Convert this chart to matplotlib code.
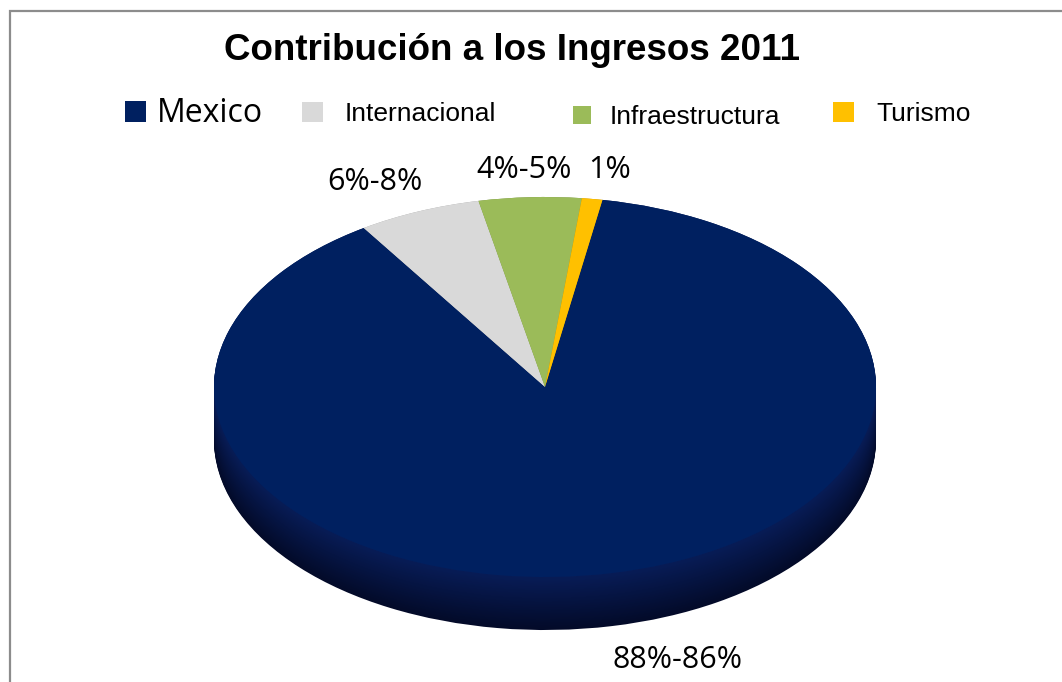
import matplotlib
matplotlib.use("Agg")
import matplotlib.pyplot as plt
import numpy as np
from matplotlib.patches import Rectangle
from matplotlib.colors import to_rgb

# data
categories = ["Mexico", "Internacional", "Infraestructura", "Turismo"]
values = [88, 6, 5, 1]
pct_labels = ["88%-86%", "6%-8%", "4%-5%", "1%"]
colors = ["#002060", "#d9d9d9", "#9bbb59", "#ffc000"]
title = "Contribución a los Ingresos 2011"

W, H = 1062, 682
fig = plt.figure(figsize=(W / 100, H / 100), dpi=100)
fig.patch.set_facecolor("white")

# chart frame (only top and left edges show)
fig.add_artist(Rectangle((10 / W, -0.2), 1.2, 1.2 - 11 / H, transform=fig.transFigure,
                         fill=False, edgecolor="#8c8c8c", linewidth=1.6))

# pie axes: ellipse centre (545, 387) px, a=331, b=190
cx, cy, a, b = 545, 387, 331, 190
xlo, xhi, ylo, yhi = -1.05, 1.05, -1.40, 1.05
left = cx + xlo * a
top = cy - yhi * b
width = (xhi - xlo) * a
height = (yhi - ylo) * b
ax = fig.add_axes([left / W, (H - top - height) / H, width / W, height / H])

depth = 53 / b
start = 80

# side of the cylinder: stacked darker copies of the pie
n_layers = 60
side_top = np.array([0.03, 0.11, 0.34])
side_bot = np.array([0.01, 0.04, 0.16])
for k in range(n_layers):
    t = depth * (1 - k / (n_layers - 1))
    f = t / depth
    side_cols = []
    for c in colors:
        base = np.array(to_rgb(c))
        if c == colors[0]:
            side_cols.append(tuple(side_top * (1 - f) + side_bot * f))
        else:
            side_cols.append(tuple(base * (0.75 - 0.3 * f)))
    ax.pie(values, colors=side_cols, startangle=start, counterclock=False,
           center=(0, -t), radius=1, wedgeprops=dict(linewidth=0, antialiased=True))

# top face
wedges, _ = ax.pie(values, colors=colors, startangle=start, counterclock=False,
                   center=(0, 0), radius=1,
                   wedgeprops=dict(linewidth=0, antialiased=True))

ax.set_aspect("auto")
ax.set_xlim(xlo, xhi)
ax.set_ylim(ylo, yhi)
ax.axis("off")

# percentage labels
label_pos = [(677, 660), (375, 182), (524, 170), (610, 170)]
for txt, (x, y) in zip(pct_labels, label_pos):
    fig.text(x / W, 1 - y / H, txt, ha="center", va="center",
             fontsize=22, family="Open Sans", color="black")

# title
fig.text(512 / W, 1 - 50 / H, title, ha="center", va="center",
         fontsize=26.5, fontweight="bold", family="Liberation Sans")

# legend entries, one legend each so the uneven spacing can be kept
leg_specs = [
    # x_px, y_px, fontsize, family, handle size, text pad
    (125, 114, 23, "Open Sans", 0.66, 0.34),
    (302, 114, 19, "Liberation Sans", 0.8, 0.83),
    (573, 117, 19, "Liberation Sans", 0.7, 0.68),
    (833, 114, 19, "Liberation Sans", 0.8, 0.83),
]
for w, name, (x, y, fs, fam, hs, pad) in zip(wedges, categories, leg_specs):
    fig.legend([w], [name], loc="center left", bbox_to_anchor=(x / W, 1 - y / H),
               frameon=False, borderpad=0, borderaxespad=0, handlelength=hs,
               handleheight=hs, handletextpad=pad,
               prop=dict(family=fam, size=fs))

fig.savefig("out.png", dpi=100, facecolor="white")
